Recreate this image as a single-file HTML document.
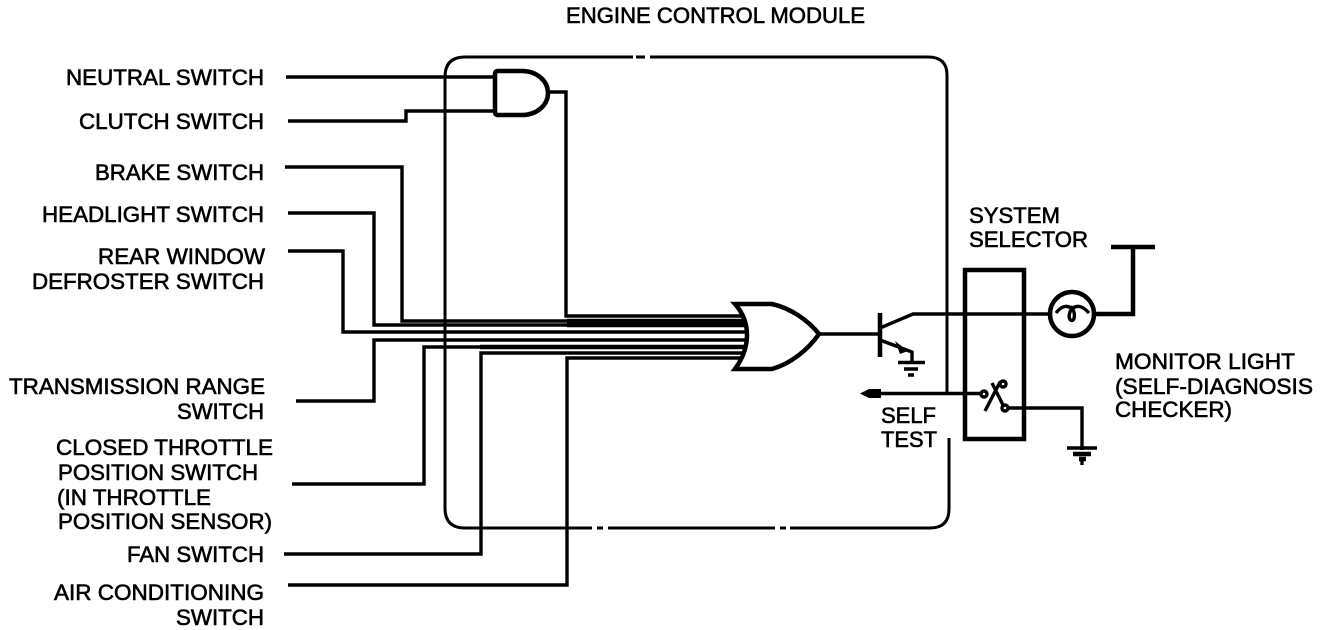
<!DOCTYPE html>
<html>
<head>
<meta charset="utf-8">
<style>
html,body{margin:0;padding:0;background:#fff;width:1328px;height:630px;overflow:hidden}
svg{display:block}
text{font-family:"Liberation Sans",sans-serif;font-size:22px;fill:#000;stroke:#000;stroke-width:.6}
.l{fill:none;stroke:#000;stroke-width:3.4}
.t{fill:none;stroke:#000;stroke-width:4.5}
.m{fill:none;stroke:#000;stroke-width:3}
</style>
</head>
<body>
<svg width="1328" height="630" viewBox="0 0 1328 630" xmlns="http://www.w3.org/2000/svg">
<!-- module outline -->
<path class="m" d="M633 57H465Q445 57 445 77V508Q445 528 465 528H592M597 528H603M608 528H775M780 528H786M790 528H930Q949 528 949 509V438M947 392V75Q947 57 928 57H650M645 57H636"/>
<!-- inputs -->
<path class="l" d="M286 77H495"/>
<path class="l" d="M288 121H406V111H495"/>
<path class="l" d="M285 167H402V321H745"/>
<path class="l" d="M288 213H374V325H745"/>
<path class="l" d="M288 251H343V332H745"/>
<path class="l" d="M296 401H374V340H745"/>
<path class="l" d="M292 484H424V347H745"/>
<path class="l" d="M284 554H481V353H745"/>
<path class="l" d="M288 585H567V358H745"/>
<path class="l" d="M549 92H566V316H745"/>
<path d="M567 321H745M567 325H745M480 347H745" fill="none" stroke="#000" stroke-width="4.5"/>
<!-- AND gate -->
<path class="t" style="fill:#fff" d="M498 71H522C537 71 548 81 548 93C548 105 537 115 522 115H498Q495 115 495 112V74Q495 71 498 71Z"/>
<!-- OR gate -->
<path class="t" style="fill:#fff" d="M735 304H772C790 308 808 320 819 334C808 350 790 364 772 369H735C743 358 747 346 747 335C747 324 743 313 735 304Z"/>
<!-- output and transistor -->
<path class="l" d="M819 334H880"/>
<path class="t" d="M880 313V357"/>
<path class="l" d="M880 328L913 314H1049"/>
<path class="l" d="M880 340L912 352V362"/>
<path fill="#000" d="M895 341L908 351L900 354Z"/>
<path class="l" d="M898 362.500H925M904 369H918M908 375H914"/>
<!-- lamp -->
<circle class="t" cx="1072" cy="314" r="22"/>
<path class="l" d="M1056 313C1062 305 1068 305 1072 309C1076 305 1082 305 1089 313"/>
<path class="l" d="M1072 308C1066 318 1071 322 1073 320C1075 318 1075 312 1072 308Z"/>
<path class="t" d="M1094 314H1133V247"/>
<path class="t" d="M1111 247H1155"/>
<!-- selector -->
<rect class="t" x="965" y="270" width="59" height="169"/>
<!-- self test -->
<path class="l" d="M866 393.500H982"/>
<path fill="#000" d="M860 393.500L869 389H881V398H869Z"/>
<circle class="l" cx="984" cy="394" r="3"/>
<circle class="l" cx="1003" cy="384" r="3"/>
<circle class="l" cx="1005" cy="408" r="3"/>
<path class="l" d="M985 411L1000 382M992 383L1004 407"/>
<path class="l" d="M1008 408H1082V450"/>
<path class="l" d="M1067 448H1097"/>
<path class="t" d="M1073 454H1091M1079 459H1086"/>
<path class="l" d="M1082 458V465"/>
<!-- labels -->
<text x="566" y="23" textLength="299" lengthAdjust="spacingAndGlyphs">ENGINE CONTROL MODULE</text>
<text x="66" y="85" textLength="198" lengthAdjust="spacingAndGlyphs">NEUTRAL SWITCH</text>
<text x="79" y="129" textLength="185" lengthAdjust="spacingAndGlyphs">CLUTCH SWITCH</text>
<text x="95" y="180" textLength="169" lengthAdjust="spacingAndGlyphs">BRAKE SWITCH</text>
<text x="42" y="222" textLength="222" lengthAdjust="spacingAndGlyphs">HEADLIGHT SWITCH</text>
<text x="98" y="264" textLength="167" lengthAdjust="spacingAndGlyphs">REAR WINDOW</text>
<text x="32" y="289" textLength="232" lengthAdjust="spacingAndGlyphs">DEFROSTER SWITCH</text>
<text x="9" y="394" textLength="256" lengthAdjust="spacingAndGlyphs">TRANSMISSION RANGE</text>
<text x="177" y="419" textLength="87" lengthAdjust="spacingAndGlyphs">SWITCH</text>
<text x="56" y="455" textLength="217" lengthAdjust="spacingAndGlyphs">CLOSED THROTTLE</text>
<text x="58" y="480" textLength="200" lengthAdjust="spacingAndGlyphs">POSITION SWITCH</text>
<text x="57" y="505" textLength="154" lengthAdjust="spacingAndGlyphs">(IN THROTTLE</text>
<text x="58" y="529" textLength="214" lengthAdjust="spacingAndGlyphs">POSITION SENSOR)</text>
<text x="127" y="562" textLength="137" lengthAdjust="spacingAndGlyphs">FAN SWITCH</text>
<text x="54" y="600" textLength="210" lengthAdjust="spacingAndGlyphs">AIR CONDITIONING</text>
<text x="176" y="625" textLength="88" lengthAdjust="spacingAndGlyphs">SWITCH</text>
<text x="969" y="223" textLength="91" lengthAdjust="spacingAndGlyphs">SYSTEM</text>
<text x="969" y="247" textLength="119" lengthAdjust="spacingAndGlyphs">SELECTOR</text>
<text x="1115" y="369" textLength="180" lengthAdjust="spacingAndGlyphs">MONITOR LIGHT</text>
<text x="1115" y="394" textLength="198" lengthAdjust="spacingAndGlyphs">(SELF-DIAGNOSIS</text>
<text x="1115" y="417" textLength="117" lengthAdjust="spacingAndGlyphs">CHECKER)</text>
<text x="881" y="423" textLength="55" lengthAdjust="spacingAndGlyphs">SELF</text>
<text x="881" y="447" textLength="56" lengthAdjust="spacingAndGlyphs">TEST</text>
</svg>
</body>
</html>
